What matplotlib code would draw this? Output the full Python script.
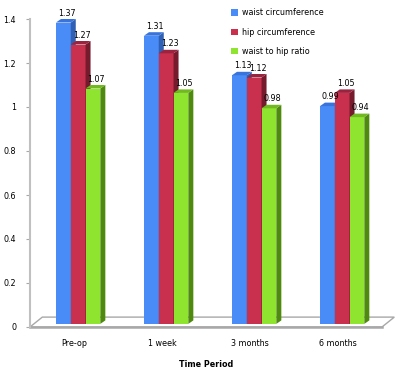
import matplotlib
matplotlib.use("Agg")
import matplotlib.pyplot as plt
from matplotlib.patches import Polygon, Patch

# ---- datos ----
periods = ["Pre-op", "1 week", "3 months", "6 months"]
series_names = ["waist circumference", "hip circumference", "waist to hip ratio"]
waist = [1.37, 1.31, 1.13, 0.99]
hip = [1.27, 1.23, 1.12, 1.05]
ratio = [1.07, 1.05, 0.98, 0.94]
yticks = [0, 0.2, 0.4, 0.6, 0.8, 1, 1.2, 1.4]
ytick_labels = ["0", "0.2", "0.4", "0.6", "0.8", "1", "1.2", "1.4"]

front_cols = ["#4a8cf7", "#c8304e", "#8fe430"]
side_cols = ["#2f60b4", "#761a2e", "#4e8a0e"]
top_cols = ["#3874dc", "#9a2440", "#72b820"]

# geometria del efecto 3D (unidades de datos)
bw = 0.168
start = -0.205
dx, dy = 0.057, 0.016
base = 0.014
fdx, fdy = 0.14, 0.045
fs = 5.8

fig = plt.figure(figsize=(4.03, 3.78), dpi=100)
ax = fig.add_axes([30 / 403, 51 / 378, 352 / 403, 308 / 378])
ax.set_xlim(-0.5, 3.5)
ax.set_ylim(0, 1.4)

# piso
floor = Polygon([(-0.5, 0), (3.5, 0), (3.5 + fdx, fdy), (-0.5 + fdx, fdy)],
                closed=True, facecolor="white", edgecolor="#a8a8a8",
                linewidth=1.0, clip_on=False, zorder=1)
ax.add_patch(floor)
ax.plot([-0.5, 3.5], [0, 0], color="#a8a8a8", linewidth=1.8,
        clip_on=False, zorder=1)

for i in range(len(periods)):
    for k, vals in enumerate([waist, hip, ratio]):
        v = vals[i]
        x0 = i + start + k * bw
        x1 = x0 + bw
        ax.bar(x0, v, width=bw, bottom=base, align="edge",
               color=front_cols[k], linewidth=0, zorder=2)
        side = Polygon([(x1, base), (x1 + dx, base + dy),
                        (x1 + dx, base + v + dy), (x1, base + v)],
                       closed=True, facecolor=side_cols[k], linewidth=0,
                       clip_on=False, zorder=2)
        ax.add_patch(side)
        top = Polygon([(x0, base + v), (x1, base + v),
                       (x1 + dx, base + v + dy), (x0 + dx, base + v + dy)],
                      closed=True, facecolor=top_cols[k], linewidth=0,
                      clip_on=False, zorder=2)
        ax.add_patch(top)
        ax.text(x0 + bw / 2 + 0.04, base + v + dy + 0.006, f"{v:.2f}",
                ha="center", va="bottom", fontsize=fs, color="#000000",
                zorder=5)

ax.set_yticks(yticks)
ax.set_yticklabels(ytick_labels)
ax.set_xticks(range(len(periods)))
ax.set_xticklabels(periods)
ax.tick_params(axis="y", length=3, width=0.8, color="#a8a8a8", pad=7,
               labelsize=fs)
ax.tick_params(axis="x", length=0, pad=9, labelsize=fs)
ax.set_xlabel("Time Period", fontsize=fs, fontweight="bold", labelpad=8)

for s in ["top", "right", "bottom"]:
    ax.spines[s].set_visible(False)
ax.spines["left"].set_color("#c0c0c0")
ax.spines["left"].set_linewidth(1.5)

handles = [Patch(facecolor=c, edgecolor="none") for c in front_cols]
fig.legend(handles, series_names, loc="upper left",
           bbox_to_anchor=(224 / 403, 1 - 1 / 378), frameon=False,
           fontsize=fs, handlelength=0.8, handleheight=0.8,
           handletextpad=0.5, labelspacing=1.3)

fig.savefig("out.png", dpi=100)
